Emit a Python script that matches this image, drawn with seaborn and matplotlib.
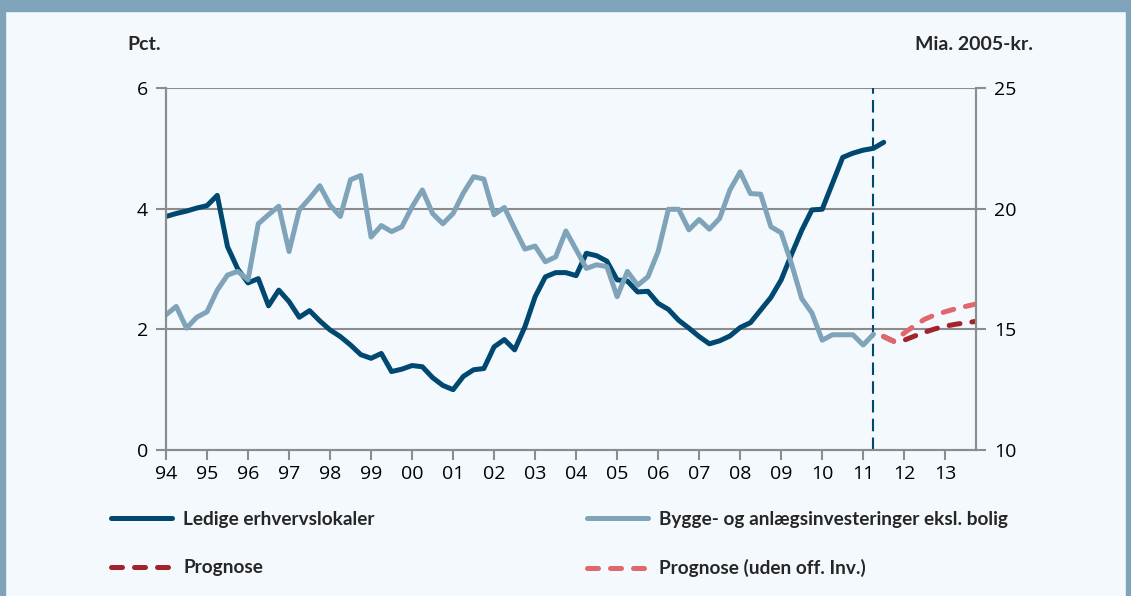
import numpy as np
import pandas as pd
import matplotlib
matplotlib.use("Agg")
import matplotlib.pyplot as plt
import seaborn as sns
from matplotlib.lines import Line2D
from matplotlib.patches import Rectangle

# kvartalsdata, start 1994K1
ledige = [3.87, 3.92, 3.96, 4.01, 4.05, 4.22, 3.37, 3.00, 2.77, 2.84,
          2.39, 2.65, 2.46, 2.20, 2.31, 2.14, 1.99, 1.88, 1.74, 1.58,
          1.52, 1.60, 1.30, 1.34, 1.40, 1.38, 1.20, 1.07, 1.00, 1.22,
          1.33, 1.35, 1.71, 1.83, 1.66, 2.04, 2.54, 2.87, 2.94, 2.94,
          2.89, 3.26, 3.22, 3.13, 2.82, 2.80, 2.62, 2.63, 2.43, 2.33,
          2.15, 2.02, 1.88, 1.76, 1.81, 1.89, 2.03, 2.11, 2.32, 2.53,
          2.82, 3.24, 3.64, 3.98, 3.99, 4.42, 4.85, 4.92, 4.97, 5.00,
          5.10]

# aflæst på venstre akse, omregnes til mia. 2005-kr. (10 + 2.5 * v)
bygge_pct = [2.24, 2.38, 2.02, 2.20, 2.29, 2.65, 2.90, 2.96, 2.82, 3.75,
             3.90, 4.04, 3.29, 3.98, 4.17, 4.38, 4.06, 3.87, 4.48, 4.55,
             3.53, 3.72, 3.62, 3.70, 4.03, 4.31, 3.92, 3.75, 3.92, 4.26,
             4.53, 4.49, 3.90, 4.02, 3.67, 3.33, 3.38, 3.12, 3.20, 3.63,
             3.32, 3.01, 3.07, 3.04, 2.54, 2.96, 2.73, 2.87, 3.29, 3.99,
             3.99, 3.65, 3.82, 3.66, 3.84, 4.31, 4.61, 4.25, 4.24, 3.70,
             3.60, 3.09, 2.51, 2.27, 1.82, 1.91, 1.91, 1.91, 1.74, 1.92]
bygge = [10 + 2.5 * v for v in bygge_pct]

# prognoser fra 2011K3
prognose = [14.70, 14.50, 14.55, 14.72, 14.88, 15.02, 15.13, 15.21, 15.27, 15.33]
prognose_uden = [14.70, 14.50, 14.85, 15.15, 15.42, 15.60, 15.73, 15.85, 15.95, 16.05]

year_labels = ["94", "95", "96", "97", "98", "99", "00", "01", "02", "03",
               "04", "05", "06", "07", "08", "09", "10", "11", "12", "13"]

DARK = "#00486f"
LIGHT = "#7fa3b9"
RED_DARK = "#a4222b"
RED_LIGHT = "#e0686d"
BG = "#f4f9fd"
GRID = "#8c8c8c"

sns.set_theme(style="white")
plt.rcParams["font.family"] = ["Open Sans", "DejaVu Sans"]

df_ledige = pd.DataFrame({"aar": 1994 + np.arange(len(ledige)) / 4, "v": ledige})
df_bygge = pd.DataFrame({"aar": 1994 + np.arange(len(bygge)) / 4, "v": bygge})
t_prog = 2011.5 + np.arange(len(prognose)) / 4
df_prog = pd.DataFrame({"aar": t_prog, "v": prognose})
df_prog_uden = pd.DataFrame({"aar": t_prog, "v": prognose_uden})

fig = plt.figure(figsize=(11.31, 5.96), dpi=100, facecolor=BG)
ax = fig.add_axes([166 / 1131, 1 - 450 / 596, (976 - 166) / 1131, (450 - 88) / 596])
ax.set_facecolor(BG)
ax2 = ax.twinx()

lw = 3.6
dash = (0, (2.2, 2.4))
sns.lineplot(data=df_ledige, x="aar", y="v", ax=ax, color=DARK, linewidth=lw,
             solid_capstyle="round", solid_joinstyle="round")
sns.lineplot(data=df_bygge, x="aar", y="v", ax=ax2, color=LIGHT, linewidth=lw,
             solid_capstyle="round", solid_joinstyle="round")
sns.lineplot(data=df_prog, x="aar", y="v", ax=ax2, color=RED_DARK, linewidth=lw,
             linestyle=dash, dash_capstyle="round")
sns.lineplot(data=df_prog_uden, x="aar", y="v", ax=ax2, color=RED_LIGHT, linewidth=lw,
             linestyle=dash, dash_capstyle="round")

ax.axvline(2011.25, color=DARK, linewidth=1.5, linestyle=(0, (6, 3)), zorder=3)

ax.set_xlim(1994, 2013.75)
ax.set_ylim(0, 6)
ax2.set_ylim(10, 25)
ax.set_xticks(np.arange(1994, 2014))
ax.set_xticklabels(year_labels)
ax.set_yticks([0, 2, 4, 6])
ax2.set_yticks([10, 15, 20, 25])
ax.set_xlabel("")
ax.set_ylabel("")
ax2.set_ylabel("")

for y in [2, 4, 6]:
    ax.axhline(y, color=GRID, linewidth=1.5, zorder=0)

for a in (ax, ax2):
    for s in a.spines.values():
        s.set_color(GRID)
        s.set_linewidth(1.5)
    a.spines["top"].set_visible(False)
    a.tick_params(axis="both", which="major", length=7, width=1.5, color=GRID,
                  labelsize=14, labelcolor="black", pad=6, direction="out")
ax.tick_params(axis="x", bottom=True, pad=4)
ax.tick_params(axis="y", left=True, right=False)
ax2.tick_params(axis="y", right=True, left=False)
ax2.grid(False)
ax.grid(False)

lab_font = ["Lato", "DejaVu Sans"]
fig.text(127 / 1131, 1 - 45 / 596, "Pct.", fontsize=14, fontweight="bold",
         family=lab_font, va="center", ha="left")
fig.text(1033 / 1131, 1 - 45 / 596, "Mia. 2005-kr.", fontsize=14, fontweight="bold",
         family=lab_font, va="center", ha="right")

# ramme
fig.patches.append(Rectangle((0, 1 - 11 / 596), 1, 11 / 596, transform=fig.transFigure,
                             color=LIGHT, zorder=0))
fig.patches.append(Rectangle((0, 0), 5 / 1131, 1, transform=fig.transFigure,
                             color=LIGHT, zorder=0))
fig.patches.append(Rectangle((1 - 5 / 1131, 0), 5 / 1131, 1, transform=fig.transFigure,
                             color=LIGHT, zorder=0))

h_ledige = Line2D([], [], color=DARK, linewidth=lw, solid_capstyle="round")
h_bygge = Line2D([], [], color=LIGHT, linewidth=lw, solid_capstyle="round")
h_prog = Line2D([], [], color=RED_DARK, linewidth=lw, linestyle=dash, dash_capstyle="round")
h_uden = Line2D([], [], color=RED_LIGHT, linewidth=lw, linestyle=dash, dash_capstyle="round")

leg_kw = dict(loc="upper left", frameon=False, borderpad=0, borderaxespad=0,
              handlelength=3.2, handletextpad=0.6, labelspacing=1.65,
              prop={"family": lab_font, "weight": "bold", "size": 13.7})
leg1 = fig.legend([h_ledige, h_prog], ["Ledige erhvervslokaler", "Prognose"],
                  bbox_to_anchor=(111 / 1131, 1 - 511 / 596), **leg_kw)
leg2 = fig.legend([h_bygge, h_uden], ["Bygge- og anlægsinvesteringer eksl. bolig",
                                      "Prognose (uden off. Inv.)"],
                  bbox_to_anchor=(587 / 1131, 1 - 511 / 596), **leg_kw)

fig.savefig("out.png", dpi=100, facecolor=BG)
